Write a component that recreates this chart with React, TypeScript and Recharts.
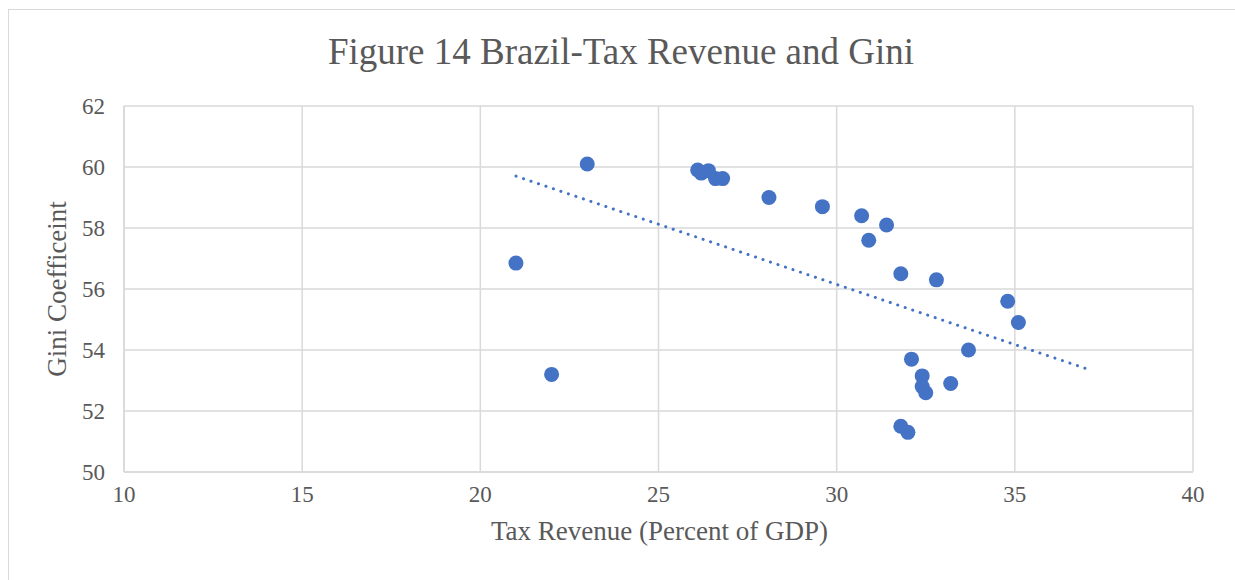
import React from "react";
import { ScatterChart, Scatter, XAxis, YAxis, CartesianGrid } from "recharts";

const taxRevenue = [21.0, 22.0, 23.0, 26.1, 26.2, 26.4, 26.6, 26.8, 28.1, 29.6, 30.7, 30.9, 31.4, 31.8, 31.8, 32.0, 32.1, 32.4, 32.4, 32.5, 32.8, 33.2, 33.7, 34.8, 35.1];
const giniCoefficient = [56.85, 53.2, 60.1, 59.9, 59.8, 59.88, 59.62, 59.62, 59.0, 58.7, 58.4, 57.6, 58.1, 56.5, 51.5, 51.3, 53.7, 53.15, 52.8, 52.6, 56.3, 52.9, 54.0, 55.6, 54.9];

const trendX = [21.0, 37.1];
const trendY = [59.7, 53.35];

const xTicks = [10, 15, 20, 25, 30, 35, 40];
const yTicks = [50, 52, 54, 56, 58, 60, 62];

const titleText = "Figure 14 Brazil-Tax Revenue and Gini";
const xLabel = "Tax Revenue (Percent of GDP)";
const yLabel = "Gini Coefficeint";

const points = taxRevenue.map((x, i) => ({ x, y: giniCoefficient[i] }));
const trend = trendX.map((x, i) => ({ x, y: trendY[i] }));

const FONT = '"Liberation Serif", "Times New Roman", serif';
const TEXT = "#595959";
const GRID = "#d9d9d9";
const BLUE = "#4472C4";

export default function App() {
  return (
    <div style={{ position: "absolute", left: 0, top: 0, width: 1235, height: 580, background: "#fff", overflow: "hidden" }}>
      <div
        style={{
          position: "absolute",
          left: 8,
          top: 9,
          width: 1235,
          height: 600,
          borderTop: `1.5px solid ${GRID}`,
          borderLeft: `1.5px solid ${GRID}`,
          boxSizing: "border-box",
        }}
      />
      <div
        style={{
          position: "absolute",
          left: 0,
          width: 1242,
          top: 29.5,
          height: 44,
          textAlign: "center",
          fontFamily: FONT,
          fontSize: 37,
          color: TEXT,
          lineHeight: "44px",
          whiteSpace: "nowrap",
        }}
      >
        {titleText}
      </div>
      <div style={{ position: "absolute", left: 0, top: 0 }}>
        <ScatterChart width={1235} height={580} margin={{ top: 106, right: 42, bottom: 0, left: 0 }}>
          <CartesianGrid stroke={GRID} strokeWidth={1.5} horizontal vertical />
          <XAxis
            type="number"
            dataKey="x"
            domain={[10, 40]}
            ticks={xTicks}
            interval={0}
            height={108}
            axisLine={{ stroke: GRID, strokeWidth: 1.5 }}
            tickLine={false}
            tickSize={0}
            tickMargin={14}
            tick={{ fill: TEXT, fontFamily: FONT, fontSize: 23 }}
            allowDataOverflow
          />
          <YAxis
            type="number"
            dataKey="y"
            domain={[50, 62]}
            ticks={yTicks}
            interval={0}
            width={124}
            axisLine={{ stroke: GRID, strokeWidth: 1.5 }}
            tickLine={false}
            tickSize={0}
            tickMargin={19}
            tick={{ fill: TEXT, fontFamily: FONT, fontSize: 23 }}
            allowDataOverflow
          />
          <Scatter
            data={trend}
            isAnimationActive={false}
            line={{ stroke: BLUE, strokeWidth: 3, strokeDasharray: "0.1 7.8", strokeLinecap: "round" }}
            shape={() => <g />}
          />
          <Scatter data={points} fill={BLUE} isAnimationActive={false} shape={(p: any) => <circle cx={p.cx} cy={p.cy} r={7.5} fill={BLUE} />} />
        </ScatterChart>
      </div>
      <div
        style={{
          position: "absolute",
          left: 359.5,
          width: 600,
          top: 515,
          height: 32,
          textAlign: "center",
          fontFamily: FONT,
          fontSize: 27,
          color: TEXT,
          lineHeight: "32px",
          whiteSpace: "nowrap",
        }}
      >
        {xLabel}
      </div>
      <div
        style={{
          position: "absolute",
          left: 57 - 150,
          width: 300,
          top: 289 - 16,
          height: 32,
          textAlign: "center",
          fontFamily: FONT,
          fontSize: 27,
          color: TEXT,
          lineHeight: "32px",
          whiteSpace: "nowrap",
          transform: "rotate(-90deg)",
        }}
      >
        {yLabel}
      </div>
    </div>
  );
}
